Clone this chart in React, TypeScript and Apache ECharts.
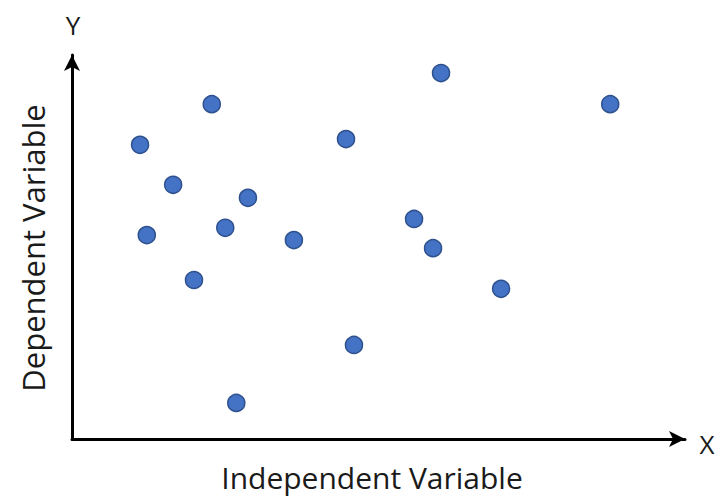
import React, { useEffect, useRef } from "react";
import * as echarts from "echarts";

const xValues = [11.1, 22.8, 16.5, 12.2, 28.7, 25.0, 19.9, 26.8, 36.2, 44.7, 46.0, 60.2, 55.8, 58.9, 70.0, 87.8];
const yValues = [76.6, 87.2, 66.2, 53.1, 62.8, 55.0, 41.4, 9.4, 51.8, 78.1, 24.5, 95.3, 57.3, 49.7, 39.1, 87.2];
const xAxisTitle = "Independent Variable";
const yAxisTitle = "Dependent Variable";
const xLetter = "X";
const yLetter = "Y";

export default function App() {
  const ref = useRef<HTMLDivElement>(null);
  useEffect(() => {
    if (!ref.current) return;
    const chart = echarts.init(ref.current, undefined, { renderer: "svg" });
    const font = "'Open Sans', 'Noto Sans', sans-serif";
    chart.setOption({
      animation: false,
      backgroundColor: "#ffffff",
      grid: { left: 72, right: 30, top: 55, bottom: 58 },
      xAxis: {
        type: "value",
        min: 0,
        max: 100,
        splitLine: { show: false },
        axisTick: { show: false },
        axisLabel: { show: false },
        axisLine: {
          show: true,
          lineStyle: { color: "#000", width: 3 },
          symbol: ["none", "arrow"],
          symbolSize: [12, 16],
          symbolOffset: [0, 0],
        },
      },
      yAxis: {
        type: "value",
        min: 0,
        max: 100,
        splitLine: { show: false },
        axisTick: { show: false },
        axisLabel: { show: false },
        axisLine: {
          show: true,
          lineStyle: { color: "#000", width: 3 },
          symbol: ["none", "arrow"],
          symbolSize: [12, 16],
          symbolOffset: [0, 0],
        },
      },
      graphic: [
        {
          type: "text",
          x: 73,
          y: 25,
          style: { text: yLetter, font: `26px ${font}`, fill: "#1a1a1a", textAlign: "center", textVerticalAlign: "middle" },
        },
        {
          type: "text",
          x: 707,
          y: 444,
          style: { text: xLetter, font: `26px ${font}`, fill: "#1a1a1a", textAlign: "center", textVerticalAlign: "middle" },
        },
        {
          type: "text",
          x: 372,
          y: 477,
          style: { text: xAxisTitle, font: `30px ${font}`, fill: "#1a1a1a", textAlign: "center", textVerticalAlign: "middle" },
        },
        {
          type: "text",
          x: 33,
          y: 248,
          rotation: Math.PI / 2,
          style: { text: yAxisTitle, font: `31px ${font}`, fill: "#1a1a1a", textAlign: "center", textVerticalAlign: "middle" },
        },
      ],
      series: [
        {
          type: "scatter",
          symbol: "circle",
          symbolSize: 17,
          data: xValues.map((x, i) => [x, yValues[i]]),
          itemStyle: { color: "#4472C4", borderColor: "#2F528F", borderWidth: 1.5, opacity: 1 },
        },
      ],
    });
    return () => chart.dispose();
  }, []);
  return <div ref={ref} style={{ width: 715, height: 497, position: "fixed", left: 0, top: 0 }} />;
}
